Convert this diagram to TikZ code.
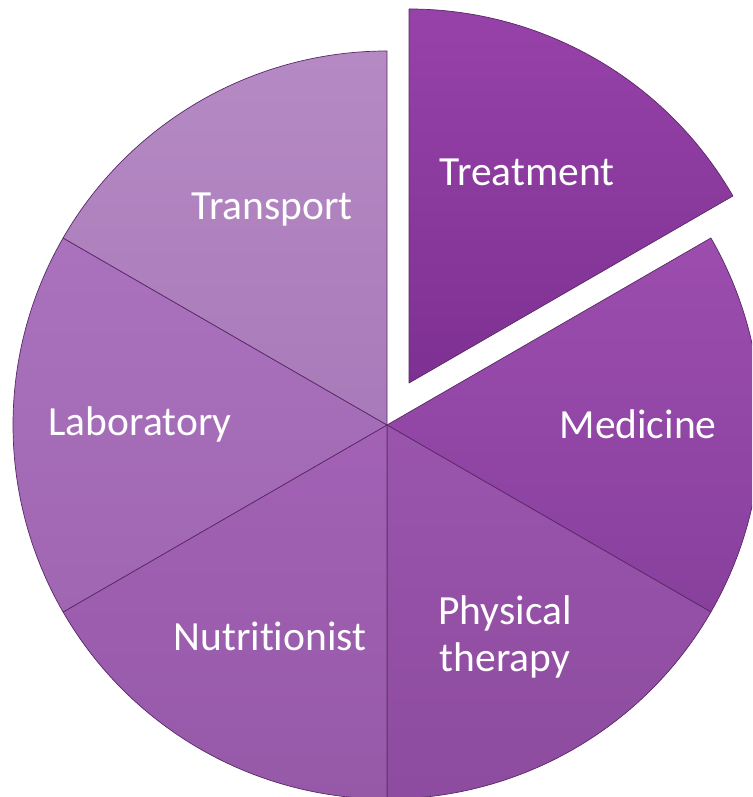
\documentclass[tikz,border=0pt]{standalone}
\usepackage{fontspec}
\setmainfont[Ligatures={NoCommon}]{Carlito}
\definecolor{cTreatA}{HTML}{9742A9}
\definecolor{cTreatB}{HTML}{7E3192}
\definecolor{cMedA}{HTML}{9C4DAE}
\definecolor{cMedB}{HTML}{88409D}
\definecolor{cPhyA}{HTML}{9A54AC}
\definecolor{cPhyB}{HTML}{8D4C9F}
\definecolor{cNutA}{HTML}{A362B5}
\definecolor{cNutB}{HTML}{9659A8}
\definecolor{cLabA}{HTML}{AA72BC}
\definecolor{cLabB}{HTML}{A066B2}
\definecolor{cTraA}{HTML}{B58AC4}
\definecolor{cTraB}{HTML}{A97AB9}
\definecolor{edgec}{HTML}{5A2868}
\tikzset{
  slice/.style={draw=edgec, line width=0.7pt, line join=round},
  lbl/.style={text=white, font=\fontsize{41.5}{47}\selectfont, inner sep=0pt, align=center}
}
\begin{document}
\begin{tikzpicture}[x=1pt,y=1pt]
\useasboundingbox (0,0) rectangle (752,797);
\clip (0,0) rectangle (752,797);
\fill[white] (0,0) rectangle (752,797);
\coordinate (C) at (387,372);
\coordinate (T) at (409,414);
\def\R{374}
% Medicine
\shade[slice, top color=cMedA, bottom color=cMedB] (C) -- ++(-30:\R) arc (-30:30:\R) -- cycle;
% Physical therapy
\shade[slice, top color=cPhyA, bottom color=cPhyB] (C) -- ++(-90:\R) arc (-90:-30:\R) -- cycle;
% Nutritionist
\shade[slice, top color=cNutA, bottom color=cNutB] (C) -- ++(210:\R) arc (210:270:\R) -- cycle;
% Laboratory
\shade[slice, top color=cLabA, bottom color=cLabB] (C) -- ++(150:\R) arc (150:210:\R) -- cycle;
% Transport
\shade[slice, top color=cTraA, bottom color=cTraB] (C) -- ++(90:\R) arc (90:150:\R) -- cycle;
% Treatment (exploded)
\shade[slice, top color=cTreatA, bottom color=cTreatB] (T) -- ++(30:\R) arc (30:90:\R) -- cycle;
% labels
\node[lbl] (treatment) at (527,625) {Treatment};
\node[lbl] (transport) at (272,587) {Transport};
\node[lbl] (laboratory) at (140,373) {Laboratory};
\node[lbl] (medicine) at (638,373) {Medicine};
\node[lbl] (nutritionist) at (270,161) {Nutritionist};
\node[lbl] (physical) at (505,160) {Physical\\therapy};
\end{tikzpicture}
\end{document}
